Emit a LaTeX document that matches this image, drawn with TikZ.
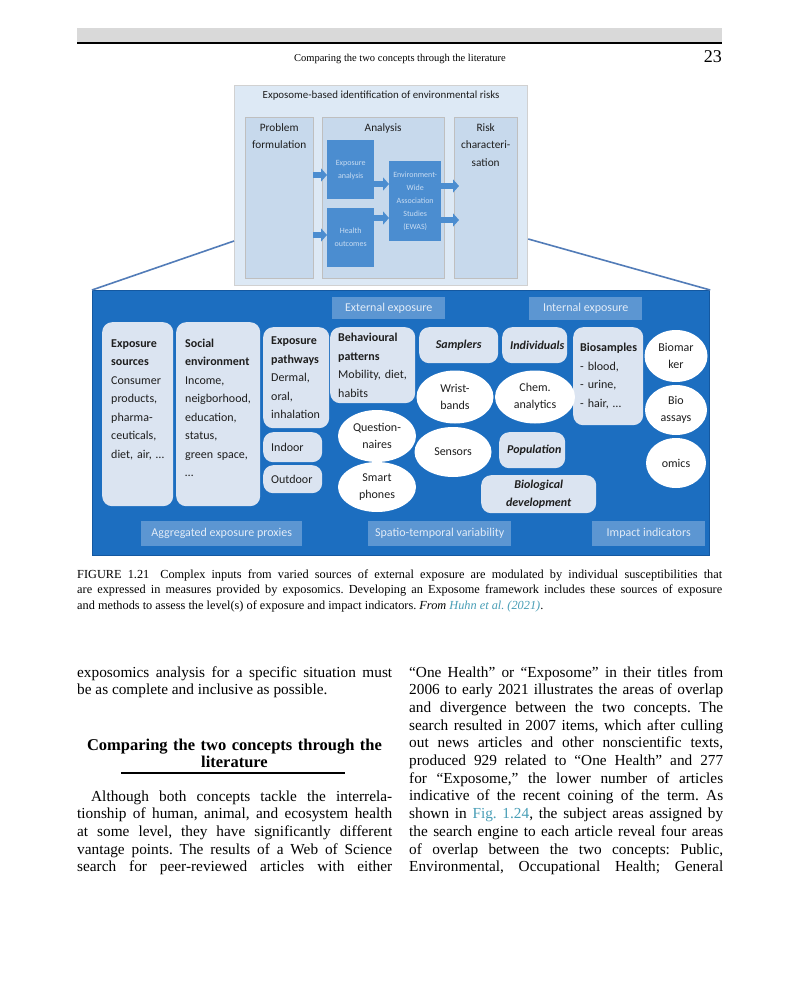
\documentclass[tikz,border=0pt]{standalone}
\usepackage{fontspec}
\setmainfont{Liberation Serif}
\newfontfamily\figfont{Carlito}
\usetikzlibrary{positioning, shapes.geometric, arrows.meta}

\definecolor{barfill}{RGB}{217,217,217}
\definecolor{topfill}{RGB}{221,233,245}
\definecolor{colfill}{RGB}{199,217,236}
\definecolor{darkcell}{RGB}{75,141,208}
\definecolor{darktext}{RGB}{200,220,242}
\definecolor{panelblue}{RGB}{28,110,192}
\definecolor{paneledge}{RGB}{20,88,160}
\definecolor{tagblue}{RGB}{92,150,210}
\definecolor{tagtext}{RGB}{226,236,248}
\definecolor{cellgray}{RGB}{219,228,241}
\definecolor{inkdark}{RGB}{30,30,30}
\definecolor{linkteal}{RGB}{72,158,182}
\definecolor{zoomblue}{RGB}{82,124,184}

\newcommand{\panelfont}{\figfont\fontsize{12}{18.5}\selectfont}

\tikzset{
	outerbox/.style={rectangle, fill=topfill, draw=black!18, line width=1.2pt, anchor=north west}, % the upper frame
	column/.style={rectangle, fill=colfill, draw=black!25, anchor=north west}, % the three stages
	coltitle/.style={font=\figfont\fontsize{11.3}{17.5}\selectfont, text=inkdark, align=center, inner sep=0pt, anchor=north},
	darkbox/.style={rectangle, fill=darkcell, text=darktext, anchor=north west, align=center, inner sep=1pt, font=\figfont\fontsize{8}{13}\selectfont},
	flow/.style={draw=darkcell, line width=6pt, -{Triangle[width=13pt, length=6pt]}}, % wide block arrows
	zoomline/.style={draw=zoomblue, line width=1.6pt},
	panel/.style={rectangle, fill=panelblue, draw=paneledge, line width=1.2pt, anchor=north west},
	tag/.style={rectangle, fill=tagblue, text=tagtext, anchor=north west, inner sep=0pt, font=\figfont\fontsize{12}{14}\selectfont},
	cell/.style={rectangle, rounded corners=10pt, fill=cellgray, text=inkdark, anchor=north west, align=left, inner xsep=8pt, inner ysep=2pt, font=\panelfont},
	celltext/.style={text=inkdark, align=left, inner sep=0pt, font=\panelfont},
	blob/.style={ellipse, fill=white, text=inkdark, align=center, inner sep=0pt, font=\figfont\fontsize{12}{17}\selectfont},
	bodytext/.style={font=\frenchspacing\fontsize{15.3}{17.7}\selectfont, text width=315pt, align=justify, inner sep=0pt, anchor=base west},
}

\begin{document}
\begin{tikzpicture}[x=1pt, y=-1pt]
	\useasboundingbox (0,0) rectangle (800,987);
	\fill[white] (0,0) rectangle (800,987);

	% running head
	\fill[barfill] (77,28) rectangle (722,42);
	\draw[line width=2pt] (77,43) -- (722,43);
	\node[anchor=base, inner sep=0pt, font=\fontsize{10.5}{12}\selectfont] (rhead) at (400,62) {Comparing the two concepts through the literature};
	\node[anchor=base east, inner sep=0pt, font=\fontsize{18}{18}\selectfont] (pageno) at (722,63) {23};

	% upper frame: exposome-based identification
	\node[outerbox, minimum width=293pt, minimum height=200pt] (expo) at (234,85) {};
	\node[coltitle, font=\figfont\fontsize{10.9}{12}\selectfont] (expotitle) at ([yshift=-6pt]expo.north) {Exposome-based identification of environmental risks};
	\node[column, minimum width=68pt, minimum height=161pt] (prob) at (245,117) {};
	\node[column, minimum width=122pt, minimum height=161pt] (anal) at (322,117) {};
	\node[column, minimum width=63pt, minimum height=161pt] (risk) at (454,117) {};
	\node[coltitle] (probtitle) at ([yshift=-6pt]prob.north) {Problem\\formulation};
	\node[coltitle] (analtitle) at ([yshift=-6pt]anal.north) {Analysis};
	\node[coltitle] (risktitle) at ([yshift=-6pt]risk.north) {Risk\\characteri-\\sation};

	\node[darkbox, minimum width=47pt, minimum height=59pt] (expan) at (327,140) {Exposure\\analysis};
	\node[darkbox, minimum width=47pt, minimum height=59pt] (health) at (327,208) {Health\\outcomes};
	\node[darkbox, minimum width=52pt, minimum height=80pt] (ewas) at (389,161) {Environment-\\Wide\\Association\\Studies\\(EWAS)};
	\coordinate (riskin) at ([xshift=5pt]risk.west);

	\draw[flow] (prob.east |- 0,175) -- (expan.west |- 0,175);
	\draw[flow] (prob.east |- 0,235) -- (health.west |- 0,235);
	\draw[flow] (expan.east |- 0,184) -- (ewas.west |- 0,184);
	\draw[flow] (health.east |- 0,218) -- (ewas.west |- 0,218);
	\draw[flow] (ewas.east |- 0,186) -- (riskin |- 0,186);
	\draw[flow] (ewas.east |- 0,220) -- (riskin |- 0,220);

	% lower panel
	\node[panel, minimum width=617pt, minimum height=265pt] (panel) at (92,290) {};
	\draw[zoomline] (expo.west |- 0,241) -- (panel.north west);
	\draw[zoomline] (expo.east |- 0,239) -- (panel.north east);

	\node[tag, minimum width=113pt, minimum height=22pt] (extexp) at (332,297) {External exposure};
	\node[tag, minimum width=113pt, minimum height=23pt] (intexp) at (529,297) {Internal exposure};
	\node[tag, minimum width=161pt, minimum height=25pt] (aggr) at (141,521) {Aggregated exposure proxies};
	\node[tag, minimum width=143pt, minimum height=25pt] (spatio) at (368,521) {Spatio-temporal variability};
	\node[tag, minimum width=113pt, minimum height=25pt] (impact) at (592,521) {Impact indicators};

	\node[cell, minimum width=71pt, minimum height=184pt] (srcbox) at (102,322) {};
	\node[celltext, text width=62pt, anchor=base west] (srctxt) at ([shift={(9,25)}]srcbox.north west) {\textbf{Exposure}\\\textbf{sources}\\Consumer\\products,\\pharma-\\ceuticals,\\diet, air, \ldots};
	\node[cell, minimum width=84pt, minimum height=184pt] (socbox) at (176,322) {};
	\node[celltext, text width=74pt, anchor=base west] (soctxt) at ([shift={(9,25)}]socbox.north west) {\textbf{Social}\\\textbf{environment}\\Income,\\neigborhood,\\education,\\status,\\green space,\\\ldots};

	\node[cell, minimum width=66pt, minimum height=101pt, text width=50pt] (pathw) at (263,327) {\textbf{Exposure}\\\textbf{pathways}\\Dermal,\\oral,\\inhalation};
	\node[cell, minimum width=59pt, minimum height=30pt, text width=43pt] (indoor) at (263,432) {Indoor};
	\node[cell, minimum width=59pt, minimum height=28pt, text width=43pt] (outdoor) at (263,465) {Outdoor};
	\node[cell, minimum width=85pt, minimum height=76pt, text width=69pt] (behav) at (330,327) {\textbf{Behavioural}\\\textbf{patterns}\\Mobility, diet,\\habits};
	\node[cell, minimum width=79pt, minimum height=36pt, text width=63pt, align=center] (sampl) at (419,327) {\textbf{\textit{Samplers}}};
	\node[cell, minimum width=65pt, minimum height=36pt, text width=49pt, align=center] (indiv) at (502,327) {\textbf{\textit{Individuals}}};
	\node[cell, minimum width=70pt, minimum height=98pt, text width=56pt, inner xsep=7pt] (biosmp) at (573,327) {\textbf{Biosamples}\\- blood,\\- urine,\\- hair, \ldots};
	\node[cell, minimum width=66pt, minimum height=36pt, text width=50pt, align=center] (popul) at (499,432) {\textbf{\textit{Population}}};
	\node[cell, minimum width=115pt, minimum height=38pt, text width=99pt, align=center, font=\figfont\fontsize{12}{18}\selectfont] (biodev) at (481,475) {\textbf{\textit{Biological}}\\\textbf{\textit{development}}};

	\node[blob, minimum width=78pt, minimum height=52pt] (quest) at (377,436) {Question-\\naires};
	\node[blob, minimum width=78pt, minimum height=50pt] (smart) at (377,487) {Smart\\phones};
	\node[blob, minimum width=77pt, minimum height=53pt] (wrist) at (455,397) {Wrist-\\bands};
	\node[blob, minimum width=80pt, minimum height=53pt] (chem) at (535,397) {Chem.\\analytics};
	\node[blob, minimum width=77pt, minimum height=50pt] (sensor) at (453,452) {Sensors};
	\node[blob, minimum width=63pt, minimum height=52pt] (biomk) at (676,356) {Biomar\\ker};
	\node[blob, minimum width=62pt, minimum height=50pt] (bioas) at (676,410) {Bio\\assays};
	\node[blob, minimum width=60pt, minimum height=50pt] (omics) at (676,463) {omics};

	% caption
	\node[bodytext, text width=645pt, font=\frenchspacing\fontsize{12.3}{15.5}\selectfont] (caption) at (77,578) {FIGURE 1.21\hspace{11pt}Complex inputs from varied sources of external exposure are modulated by individual susceptibilities that\linebreak are expressed in measures provided by exposomics. Developing an Exposome framework includes these sources of exposure\linebreak and methods to assess the level(s) of exposure and impact indicators. \textit{From} \textcolor{linkteal}{\textit{Huhn et al. (2021)}}.};

	% left column
	\node[bodytext] (leftA) at (77,677) {exposomics analysis for a specific situation must\linebreak be as complete and inclusive as possible.};
	\node[bodytext, anchor=base, text width=315pt, align=center, font=\bfseries\fontsize{16.5}{17}\selectfont] (sechead) at (234.5,750) {Comparing the two concepts through the\\literature};
	\draw[line width=1.5pt] (121,773) -- (345,773);
	\node[bodytext] (leftB) at (77,801) {\parfillskip=0pt \hspace*{14pt}Although both concepts tackle the interrela-\linebreak tionship of human, animal, and ecosystem health\linebreak at some level, they have significantly different\linebreak vantage points. The results of a Web of Science\linebreak search for peer-reviewed articles with either\par};

	% right column
	\node[bodytext, text width=314pt] (rightA) at (409,677) {\parfillskip=0pt ``One Health'' or ``Exposome'' in their titles from\linebreak 2006 to early 2021 illustrates the areas of overlap\linebreak and divergence between the two concepts. The\linebreak search resulted in 2007 items, which after culling\linebreak out news articles and other nonscientific texts,\linebreak produced 929 related to ``One Health'' and 277\linebreak for ``Exposome,'' the lower number of articles\linebreak indicative of the recent coining of the term. As\linebreak shown in \textcolor{linkteal}{Fig. 1.24}, the subject areas assigned by\linebreak the search engine to each article reveal four areas\linebreak of overlap between the two concepts: Public,\linebreak Environmental, Occupational Health; General\par};
\end{tikzpicture}
\end{document}
